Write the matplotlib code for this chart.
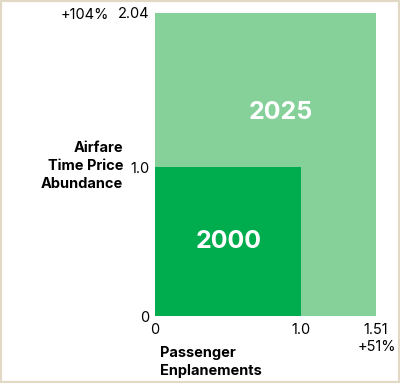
import matplotlib.pyplot as plt
from matplotlib.patches import Rectangle

# passenger enplanements (x) and airfare time price abundance (y), 2000 = 1.0
years = ['2025', '2000']
enplanements = [1.51, 1.0]
abundance = [2.04, 1.0]
colors = ['#86d09a', '#00ad4e']
x_ticks = [0, 1.0, 1.51]
x_ticklabels = ['0', '1.0', '1.51']
y_ticks = [0, 1.0, 2.04]
y_ticklabels = ['0', '1.0', '2.04']
x_change = '+51%'
y_change = '+104%'

plt.rcParams['font.family'] = ['Inter', 'DejaVu Sans']

W, H = 400, 383
fig = plt.figure(figsize=(W / 100, H / 100), dpi=100)
ax = fig.add_axes([155 / W, 1 - 316 / H, 221 / W, 303 / H])


def px(x, y):
    return x / W, 1 - y / H


for yr, w, h, c in zip(years, enplanements, abundance, colors):
    ax.add_patch(Rectangle((0, 0), w, h, facecolor=c, edgecolor='none'))

# year labels
ax.text(0.86, 1.37, years[0], color='white', fontsize=18, fontweight='bold',
        ha='center', va='center')
ax.text(enplanements[1] / 2, abundance[1] / 2, years[1], color='white',
        fontsize=18, fontweight='bold', ha='center', va='center')

ax.set_xlim(0, max(enplanements))
ax.set_ylim(0, max(abundance))
ax.set_xticks(x_ticks)
ax.set_xticklabels(x_ticklabels)
ax.set_yticks(y_ticks)
ax.set_yticklabels(y_ticklabels)
ax.tick_params(length=0, labelsize=10.5)
ax.tick_params(axis='x', pad=5)
ax.tick_params(axis='y', pad=4)
for s in ax.spines.values():
    s.set_visible(False)

fig.text(*px(109, 15), y_change, fontsize=10.5, ha='right', va='center')
fig.text(*px(377, 347), x_change, fontsize=10.5, ha='center', va='center')
fig.text(*px(123, 166), 'Airfare\nTime Price\nAbundance', fontsize=10.5,
         fontweight='bold', ha='right', va='center', linespacing=1.4)
fig.text(*px(160, 362), 'Passenger\nEnplanements', fontsize=10.5,
         fontweight='bold', ha='left', va='center', linespacing=1.4)

# beige frame
fig.patches.append(Rectangle((0, 0), 1, 1, transform=fig.transFigure, fill=False,
                             edgecolor='#e2d9c4', linewidth=3))

fig.savefig('out.png', dpi=100)
